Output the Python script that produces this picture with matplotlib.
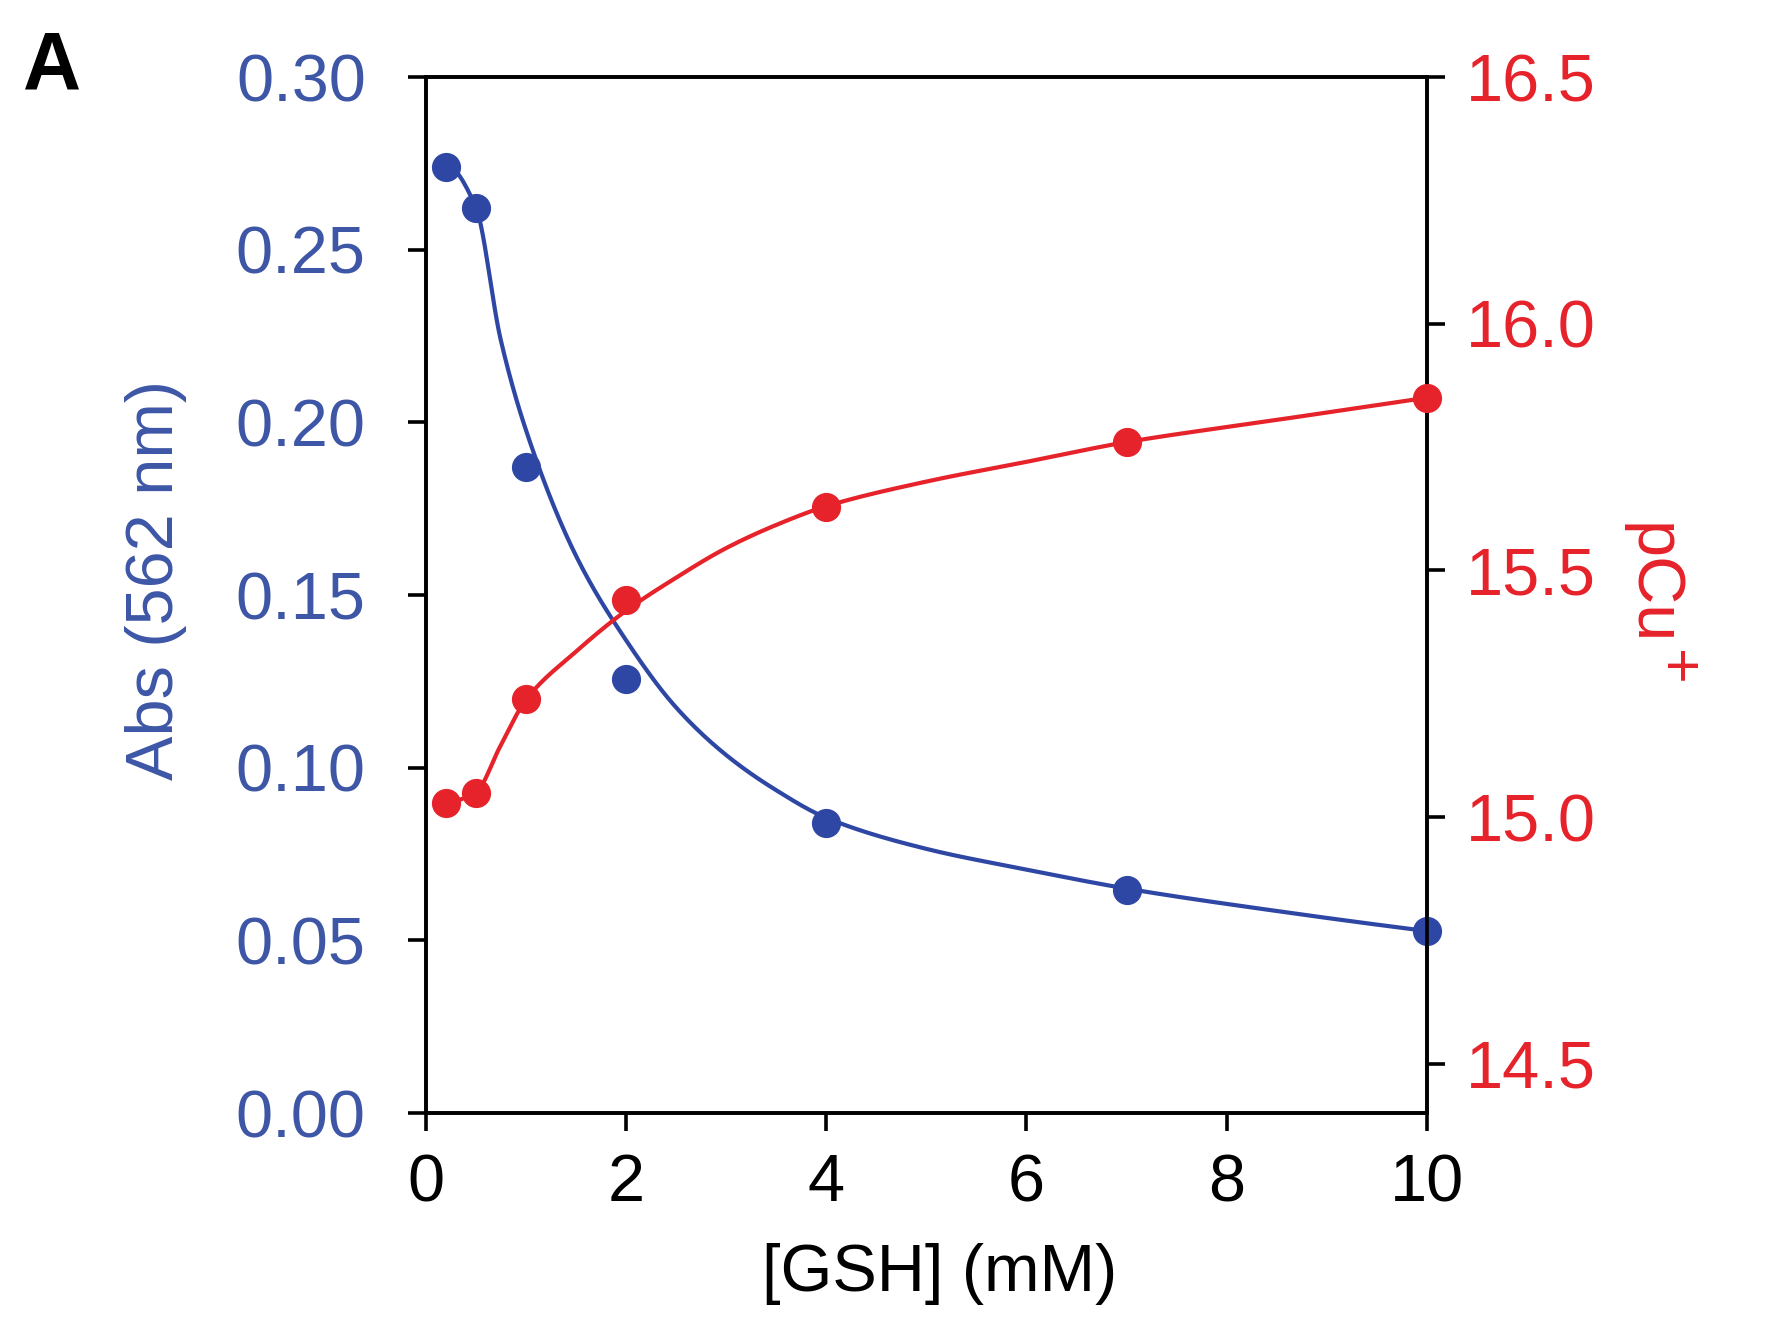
import numpy as np
import matplotlib
matplotlib.use("Agg")
import matplotlib.pyplot as plt
from matplotlib.ticker import FormatStrFormatter

plt.rcParams['font.family'] = ['Liberation Sans', 'DejaVu Sans']

# measured points
gsh = [0.2, 0.5, 1, 2, 4, 7, 10]
absorb = [0.274, 0.262, 0.187, 0.1257, 0.0839, 0.0647, 0.0527]
pcu = [15.029, 15.049, 15.239, 15.44, 15.628, 15.761, 15.849]

# fitted curves
fit_x = [0.2, 0.5, 0.75, 1.0, 1.5, 2.0, 2.5, 3.0, 3.5, 4.0, 5.0, 6.0, 7.0, 8.5, 10.0]
blue_fit = [0.2745, 0.2625, 0.224, 0.198, 0.1615, 0.137, 0.1175, 0.1037, 0.0935, 0.0855,
            0.0765, 0.0705, 0.065, 0.0585, 0.0527]
red_fit = [15.03, 15.05, 15.145, 15.237, 15.335, 15.418, 15.485, 15.545, 15.592, 15.63,
           15.68, 15.72, 15.76, 15.805, 15.85]

BLUE = '#2E47A4'
BLUE_TXT = '#3D56A6'
RED = '#E6222A'


def end_slope(h0, h1, m0, m1):
    d = ((2 * h0 + h1) * m0 - h0 * m1) / (h0 + h1)
    if np.sign(d) != np.sign(m0):
        d = 0.0
    elif np.sign(m0) != np.sign(m1) and abs(d) > abs(3 * m0):
        d = 3 * m0
    return d


# monotone cubic (PCHIP) so the fit line is drawn smooth
def pchip(x, y, xs):
    x = np.asarray(x, float)
    y = np.asarray(y, float)
    h = np.diff(x)
    m = np.diff(y) / h
    n = len(x)
    d = np.zeros(n)
    for k in range(1, n - 1):
        if m[k - 1] * m[k] > 0:
            w1 = 2 * h[k] + h[k - 1]
            w2 = h[k] + 2 * h[k - 1]
            d[k] = (w1 + w2) / (w1 / m[k - 1] + w2 / m[k])
    d[0] = end_slope(h[0], h[1], m[0], m[1])
    d[-1] = end_slope(h[-1], h[-2], m[-1], m[-2])
    i = np.clip(np.searchsorted(x, xs) - 1, 0, n - 2)
    t = (xs - x[i]) / h[i]
    h00 = 2 * t**3 - 3 * t**2 + 1
    h10 = t**3 - 2 * t**2 + t
    h01 = -2 * t**3 + 3 * t**2
    h11 = t**3 - t**2
    return h00 * y[i] + h10 * h[i] * d[i] + h01 * y[i + 1] + h11 * h[i] * d[i + 1]


fig = plt.figure(figsize=(17.79, 13.26), dpi=100)
ax = fig.add_axes([0.2392, 0.1606, 0.563, 0.7813])
ax2 = ax.twinx()

xs = np.linspace(fit_x[0], fit_x[-1], 500)
ax.plot(xs, pchip(fit_x, blue_fit, xs), color=BLUE, lw=3.0, zorder=2, clip_on=False)
ax.plot(gsh, absorb, 'o', color=BLUE, ms=20, zorder=3, clip_on=False)

ax2.plot(xs, pchip(fit_x, red_fit, xs), color=RED, lw=3.0, zorder=2, clip_on=False)
ax2.plot(gsh, pcu, 'o', color=RED, ms=20, zorder=3, clip_on=False)

ax.set_xlim(0, 10)
ax.set_ylim(0, 0.30)
ax2.set_ylim(14.4, 16.5)
ax.set_xticks([0, 2, 4, 6, 8, 10])
ax.set_yticks(np.arange(0, 0.301, 0.05))
ax2.set_yticks([14.5, 15.0, 15.5, 16.0, 16.5])
ax.yaxis.set_major_formatter(FormatStrFormatter('%.2f'))
ax2.yaxis.set_major_formatter(FormatStrFormatter('%.1f'))

for a in (ax, ax2):
    for s in a.spines.values():
        s.set_linewidth(2.6)

ax.tick_params(axis='x', direction='out', length=13, width=2.6, labelsize=48, pad=16, top=False)
ax.tick_params(axis='y', direction='out', length=13, width=2.6, labelsize=48, pad=30,
               labelcolor=BLUE_TXT, right=False)
ax2.tick_params(axis='y', direction='out', length=13, width=2.6, labelsize=48, pad=15,
                labelcolor=RED)

ax.set_xlabel('[GSH] (mM)', fontsize=48)
ax.xaxis.set_label_coords(0.513, -0.125)
ax.set_ylabel('Abs (562 nm)', fontsize=48, color=BLUE_TXT)
ax.yaxis.set_label_coords(-0.238, 0.515)

# right label: pCu with a large superscript +
fig.text(0.9185, 0.6056, 'pCu', fontsize=48, color=RED, rotation=270,
         rotation_mode='anchor', ha='left', va='baseline')
fig.text(0.9415, 0.496, '+', fontsize=44, color=RED, rotation=270,
         rotation_mode='anchor', ha='center', va='center')

fig.text(0.0129, 0.9329, 'A', fontsize=58, fontweight='bold', ha='left', va='baseline')

fig.savefig('out.png', dpi=100)
